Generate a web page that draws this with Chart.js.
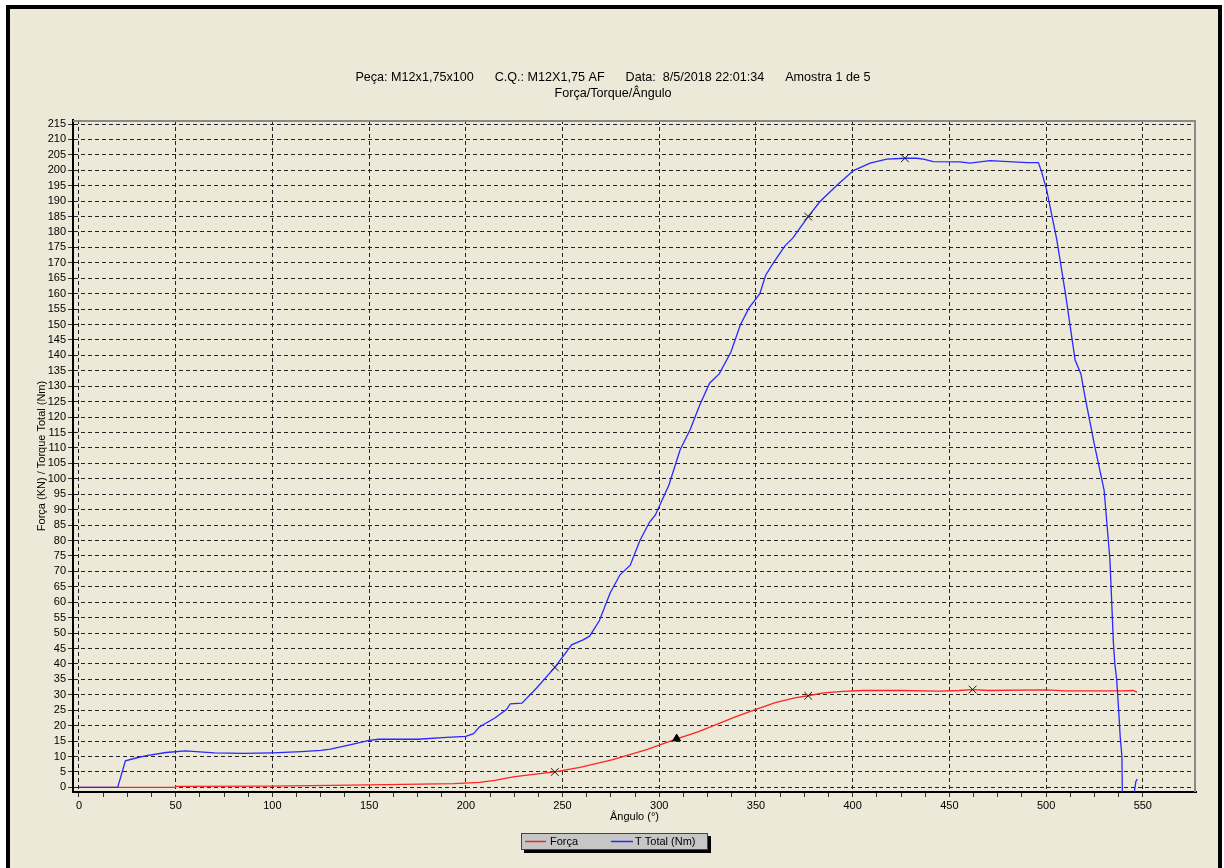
<!DOCTYPE html>
<html>
<head>
<meta charset="utf-8">
<script src="https://cdn.jsdelivr.net/npm/chart.js@4.4.0/dist/chart.umd.min.js"></script>
<style>
  html, body { margin: 0; padding: 0; background: #ffffff; }
  canvas { display: block; }
</style>
</head>
<body>
<canvas id="grafico" width="1224" height="868"></canvas>
<script>
// Textos do ensaio
const tituloLinha1 = 'Peça: M12x1,75x100      C.Q.: M12X1,75 AF      Data:  8/5/2018 22:01:34      Amostra 1 de 5';
const tituloLinha2 = 'Força/Torque/Ângulo';
const rotuloX = 'Ângulo (°)';
const rotuloY = 'Força (KN) / Torque Total (Nm)';
const nomesSeries = ['Força', 'T Total (Nm)'];

// Curva de força (kN) em função do ângulo (°)
const forcaAngulo = [0, 49.9, 50, 100, 150, 194, 207, 215, 224.5, 235, 246, 259, 276, 293.5, 309, 320, 330, 340, 350, 360, 370, 377, 385, 395, 405, 425, 445, 455, 462, 470, 500, 510, 540, 545, 547];
const forcaValor  = [0, 0, 0.3, 0.4, 0.8, 1.2, 1.6, 2.3, 3.4, 4.2, 5.0, 6.5, 9.0, 12.2, 15.7, 18, 20.5, 23, 25.3, 27.5, 29, 29.7, 30.6, 31.1, 31.4, 31.4, 31.2, 31.4, 31.7, 31.4, 31.6, 31.3, 31.3, 31.4, 30.9];

// Curva de torque total (Nm) em função do ângulo (°)
const torqueAngulo = [0, 20, 24, 30, 35, 45, 55, 70, 85, 100, 115, 125, 130, 140, 150, 155, 175, 190, 200, 204, 207, 215, 221, 223, 229, 236.6, 246, 254.7, 260.6, 264, 269, 274.6, 279.7, 285, 290, 295, 298, 305, 310.8, 316, 321, 326, 331, 337, 342, 346.5, 352, 355, 359, 365, 369, 377, 383, 392, 400.4, 409, 417.6, 427, 433, 436.6, 441.7, 455.5, 460.6, 471, 490, 496, 497.7, 500.3, 505.5, 510, 515, 518, 520, 525, 530, 533, 534.8, 535.5, 536.5, 537.4, 538.3, 539.2, 539.4, 542, 545.6, 546.4, 547.2];
const torqueValor  = [0, 0, 8.6, 9.6, 10.3, 11.3, 11.8, 11.2, 11, 11.2, 11.6, 12, 12.4, 13.8, 15.2, 15.6, 15.6, 16.2, 16.5, 17.4, 19.6, 22.5, 25.2, 27.1, 27.3, 32.2, 38.9, 46.2, 47.8, 49, 54, 63, 68.9, 72, 80, 86, 88.3, 98, 109.4, 116, 124, 131, 134, 141, 150, 155.5, 160, 166, 170, 175.5, 178, 185, 189.8, 195.2, 199.9, 202.3, 203.6, 203.9, 203.9, 203.6, 202.8, 202.7, 202.3, 203.1, 202.5, 202.5, 199.5, 193.6, 177.6, 160, 138.5, 134, 127, 111, 96.3, 73.8, 46.8, 40.3, 34.9, 26.2, 16.5, 10, -1.5, null, -1.5, 1.9, 2.7];

// Pontos marcados nas curvas
const marcasTorqueAngulo = [246, 377, 427];
const marcasTorqueValor  = [38.9, 185, 203.9];
const marcasForcaAngulo  = [246, 377, 462];
const marcasForcaValor   = [5.0, 29.7, 31.7];
const trianguloAngulo = [309];
const trianguloValor  = [15.8];

// Escalas
const eixoXMin = -3.1, eixoXMax = 577.5, eixoXPasso = 12.5, eixoXRotulo = 50, eixoXUltimo = 550;
const eixoYMin = -1.5, eixoYMax = 216.3, eixoYPasso = 5;

const pares = (xs, ys) => xs.map((x, i) => ({ x: x, y: ys[i] }));

const fonte = '"Liberation Sans", Arial, sans-serif';
const corFundo = '#ece9d8';

// Moldura, fundo e legenda desenhados à mão
const moldura = {
  id: 'moldura',
  beforeDraw(chart) {
    const ctx = chart.ctx;
    ctx.save();
    ctx.fillStyle = '#ffffff';
    ctx.fillRect(0, 0, chart.width, chart.height);
    ctx.fillStyle = corFundo;
    ctx.fillRect(6, 5, 1216, chart.height);
    ctx.fillStyle = '#000000';
    ctx.fillRect(6, 5, 1216, 4);
    ctx.fillRect(6, 5, 4, chart.height);
    ctx.fillRect(1218, 5, 4, chart.height);
    ctx.restore();
  },
  afterDraw(chart) {
    const ctx = chart.ctx;
    const a = chart.chartArea;
    ctx.save();
    // bordas superior e direita da área de plotagem
    ctx.strokeStyle = '#8a8a8a';
    ctx.lineWidth = 2;
    ctx.beginPath();
    ctx.moveTo(a.left, a.top + 1);
    ctx.lineTo(a.right - 1, a.top + 1);
    ctx.lineTo(a.right - 1, a.bottom);
    ctx.stroke();

    // legenda
    const lx = 521, ly = 833, lw = 187, lh = 17;
    ctx.fillStyle = '#000000';
    ctx.fillRect(lx + 3, ly + 3, lw, lh);
    ctx.fillStyle = '#c6c6c6';
    ctx.fillRect(lx, ly, lw, lh);
    ctx.strokeStyle = '#444444';
    ctx.lineWidth = 1;
    ctx.strokeRect(lx + 0.5, ly + 0.5, lw - 1, lh - 1);
    const cy = ly + 8.5;
    const itens = [
      { cor: chart.data.datasets[4].borderColor, x1: 525, x2: 546, tx: 550, texto: nomesSeries[0] },
      { cor: chart.data.datasets[3].borderColor, x1: 611, x2: 633, tx: 635, texto: nomesSeries[1] }
    ];
    ctx.font = '11px ' + fonte;
    ctx.textBaseline = 'middle';
    ctx.textAlign = 'left';
    itens.forEach(it => {
      ctx.strokeStyle = it.cor;
      ctx.lineWidth = 1.5;
      ctx.beginPath();
      ctx.moveTo(it.x1, cy);
      ctx.lineTo(it.x2, cy);
      ctx.stroke();
      ctx.fillStyle = '#000000';
      ctx.fillText(it.texto, it.tx, cy);
    });
    ctx.restore();
  }
};

new Chart(document.getElementById('grafico'), {
  type: 'line',
  data: {
    datasets: [
      {
        label: 'marcas torque',
        data: pares(marcasTorqueAngulo, marcasTorqueValor),
        showLine: false,
        pointStyle: 'crossRot',
        pointRadius: 5.5,
        borderColor: '#1a1a1a',
        borderWidth: 1
      },
      {
        label: 'marcas força',
        data: pares(marcasForcaAngulo, marcasForcaValor),
        showLine: false,
        pointStyle: 'crossRot',
        pointRadius: 5.5,
        borderColor: '#1a1a1a',
        borderWidth: 1
      },
      {
        label: 'triângulo',
        data: pares(trianguloAngulo, trianguloValor),
        showLine: false,
        pointStyle: 'triangle',
        pointRadius: 4.5,
        backgroundColor: '#000000',
        borderColor: '#000000',
        borderWidth: 1
      },
      {
        label: nomesSeries[1],
        data: pares(torqueAngulo, torqueValor),
        borderColor: 'rgb(40,40,255)',
        borderWidth: 1.3,
        pointRadius: 0,
        tension: 0,
        spanGaps: false,
        fill: false
      },
      {
        label: nomesSeries[0],
        data: pares(forcaAngulo, forcaValor),
        borderColor: 'rgb(255,35,35)',
        borderWidth: 1.3,
        pointRadius: 0,
        tension: 0,
        fill: false
      }
    ]
  },
  options: {
    responsive: false,
    animation: false,
    devicePixelRatio: 1,
    events: [],
    layout: { padding: { left: 30, right: 28, top: 70, bottom: 40 } },
    plugins: {
      legend: { display: false },
      tooltip: { enabled: false },
      title: {
        display: true,
        text: [tituloLinha1, tituloLinha2],
        color: '#000000',
        font: { family: fonte, size: 12.6, weight: 'normal', lineHeight: 1.24 },
        padding: { top: 0, bottom: 18.75 }
      }
    },
    scales: {
      x: {
        type: 'linear',
        min: eixoXMin,
        max: eixoXMax,
        afterBuildTicks(s) {
          s.ticks = s.ticks.filter(t => t.value >= 0 && t.value <= eixoXUltimo);
        },
        afterFit(s) { s.height = 36; },
        ticks: {
          stepSize: eixoXPasso,
          includeBounds: false,
          autoSkip: false,
          maxRotation: 0,
          padding: 2,
          color: '#000000',
          font: { family: fonte, size: 11 },
          callback: v => (v % eixoXRotulo === 0 ? String(v) : '')
        },
        grid: {
          color: c => (c.tick && c.tick.value % eixoXRotulo === 0) ? '#222222' : 'rgba(0,0,0,0)',
          lineWidth: 1,
          tickColor: '#333333',
          tickLength: 5,
          tickWidth: 1,
          tickBorderDash: []
        },
        border: { display: true, color: '#000000', width: 2, dash: [4, 3] },
        title: {
          display: true,
          text: rotuloX,
          color: '#000000',
          font: { family: fonte, size: 11 },
          padding: { top: 4, bottom: 4 }
        }
      },
      y: {
        type: 'linear',
        min: eixoYMin,
        max: eixoYMax,
        afterFit(s) { s.width = 43; },
        ticks: {
          stepSize: eixoYPasso,
          includeBounds: false,
          autoSkip: false,
          padding: 2,
          color: '#000000',
          font: { family: fonte, size: 11 }
        },
        grid: {
          color: '#222222',
          lineWidth: 1,
          tickColor: '#333333',
          tickLength: 5,
          tickWidth: 1,
          tickBorderDash: []
        },
        border: { display: true, color: '#000000', width: 2, dash: [4, 3] },
        title: {
          display: true,
          text: rotuloY,
          color: '#000000',
          font: { family: fonte, size: 11 },
          padding: { top: 5, bottom: 4 }
        }
      }
    }
  },
  plugins: [moldura]
});
</script>
</body>
</html>
